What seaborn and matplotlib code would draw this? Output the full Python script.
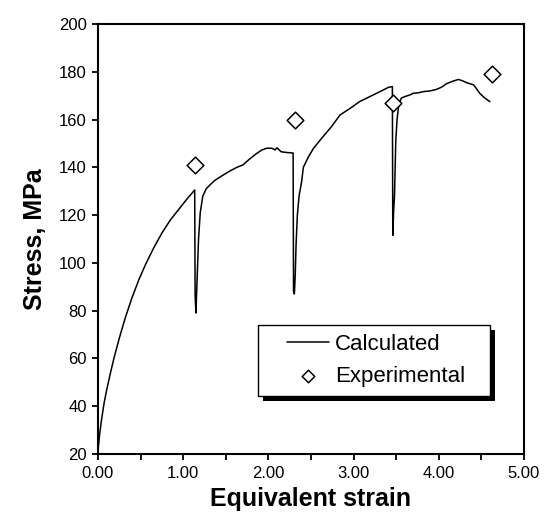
import matplotlib
matplotlib.use("Agg")
import matplotlib.pyplot as plt
import seaborn as sns
import pandas as pd
from matplotlib.patches import Rectangle
from matplotlib.lines import Line2D
from matplotlib.collections import PathCollection
from matplotlib.legend_handler import HandlerLine2D, HandlerPathCollection
from matplotlib.ticker import MultipleLocator, FormatStrFormatter

# Calculated curve (equivalent strain, stress MPa)
strain = [0.000, 0.010, 0.020, 0.040, 0.070, 0.100, 0.140, 0.190, 0.250, 0.320,
          0.400, 0.480, 0.560, 0.650, 0.750, 0.850, 0.950, 1.050, 1.135,
          1.140, 1.150, 1.160, 1.170, 1.180, 1.200, 1.230, 1.270, 1.310, 1.370, 1.470,
          1.550, 1.630, 1.700, 1.780, 1.850, 1.920, 1.980, 2.040, 2.080, 2.100, 2.150,
          2.220, 2.290, 2.295, 2.305, 2.315, 2.325, 2.340, 2.360, 2.390, 2.410, 2.470,
          2.530, 2.640, 2.740, 2.840, 2.960, 3.070, 3.190, 3.310, 3.410, 3.455, 3.460,
          3.470, 3.480, 3.495, 3.510, 3.530, 3.560, 3.600, 3.660, 3.700, 3.760, 3.820,
          3.900, 3.970, 4.030, 4.090, 4.160, 4.230, 4.280, 4.330, 4.410, 4.480, 4.540,
          4.600]
stress = [21.0, 25.0, 28.5, 34.0, 41.0, 46.5, 53.0, 60.5, 68.5, 77.0,
          85.5, 93.0, 99.5, 106.0, 112.5, 118.0, 122.5, 127.0, 130.5,
          86.0, 79.0, 90.0, 100.0, 110.0, 121.0, 128.0, 131.0, 132.5, 134.5, 136.8,
          138.5, 140.0, 141.0, 143.5, 145.5, 147.2, 148.0, 148.0, 147.3, 148.2, 146.5,
          146.2, 146.0, 88.0, 87.0, 95.0, 108.0, 120.0, 128.0, 134.0, 140.0, 144.4,
          148.0, 152.8, 157.0, 161.9, 164.7, 167.5, 169.6, 171.7, 173.5, 173.8, 111.5,
          122.0, 128.0, 151.0, 160.0, 166.0, 169.0, 169.6, 170.3, 171.0, 171.2, 171.7,
          172.0, 172.6, 173.5, 175.0, 176.0, 176.8, 176.2, 175.4, 174.5, 171.0, 169.0,
          167.5]

# Experimental points
exp_strain = [1.14, 2.31, 3.46, 4.62]
exp_stress = [141.0, 160.0, 167.0, 179.0]

x_ticks = [0, 1, 2, 3, 4, 5]
y_ticks = [20, 40, 60, 80, 100, 120, 140, 160, 180, 200]

sns.set_style("ticks")
plt.rcParams['font.family'] = ['Liberation Sans', 'DejaVu Sans']
plt.rcParams['text.color'] = 'black'
plt.rcParams['axes.labelcolor'] = 'black'
plt.rcParams['xtick.color'] = 'black'
plt.rcParams['ytick.color'] = 'black'

fig = plt.figure(figsize=(5.44, 5.18), dpi=100)
ax = fig.add_axes([98/544, 1 - 454/518, 426/544, 430/518])

calc = pd.DataFrame({"strain": strain, "stress": stress})
expd = pd.DataFrame({"strain": exp_strain, "stress": exp_stress})

sns.lineplot(data=calc, x="strain", y="stress", sort=False, estimator=None,
             color="black", linewidth=1.1, ax=ax, label="Calculated")
sns.scatterplot(data=expd, x="strain", y="stress", marker="D", s=72,
                facecolor="white", edgecolor="black", linewidth=1.1,
                ax=ax, label="Experimental", zorder=3)

ax.set_xlim(0, 5)
ax.set_ylim(20, 200)
ax.set_xticks(x_ticks)
ax.set_yticks(y_ticks)
ax.xaxis.set_minor_locator(MultipleLocator(0.5))
ax.xaxis.set_major_formatter(FormatStrFormatter('%.2f'))

for s in ax.spines.values():
    s.set_visible(True)
    s.set_linewidth(1.5)
    s.set_color("black")

ax.tick_params(axis='both', which='both', direction='out', length=4, width=1.3,
               color='black', labelsize=12, labelcolor='black')
ax.tick_params(axis='x', which='minor', length=4, width=1.3)
ax.tick_params(axis='x', pad=5)
ax.tick_params(axis='y', pad=4)

ax.set_xlabel("Equivalent strain", fontsize=18, fontweight='bold', labelpad=4,
              color='black')
ax.set_ylabel("Stress, MPa", fontsize=18, fontweight='bold', labelpad=9,
              color='black')

leg = ax.legend(loc='upper left', bbox_to_anchor=(0.376, 0.300), borderaxespad=0,
                fontsize=16, frameon=False, borderpad=0.4, handlelength=2.8,
                handletextpad=0.25, labelspacing=0.5, markerscale=0.75,
                handler_map={Line2D: HandlerLine2D(xpad=0.9),
                             PathCollection: HandlerPathCollection(xpad=0.9)})
leg.set_zorder(5)

fig.canvas.draw()
bb = leg.get_window_extent()
extra_right = 16
frame = Rectangle((bb.x0, bb.y0), bb.width + extra_right, bb.height, transform=None,
                  facecolor='white', edgecolor='black', linewidth=1.0,
                  zorder=4.9, clip_on=False)
shadow = Rectangle((bb.x0 + 5, bb.y0 - 5), bb.width + extra_right, bb.height,
                   transform=None, facecolor='black', edgecolor='none',
                   zorder=4.8, clip_on=False)
ax.add_artist(shadow)
ax.add_artist(frame)

fig.savefig("out.png", dpi=100)
